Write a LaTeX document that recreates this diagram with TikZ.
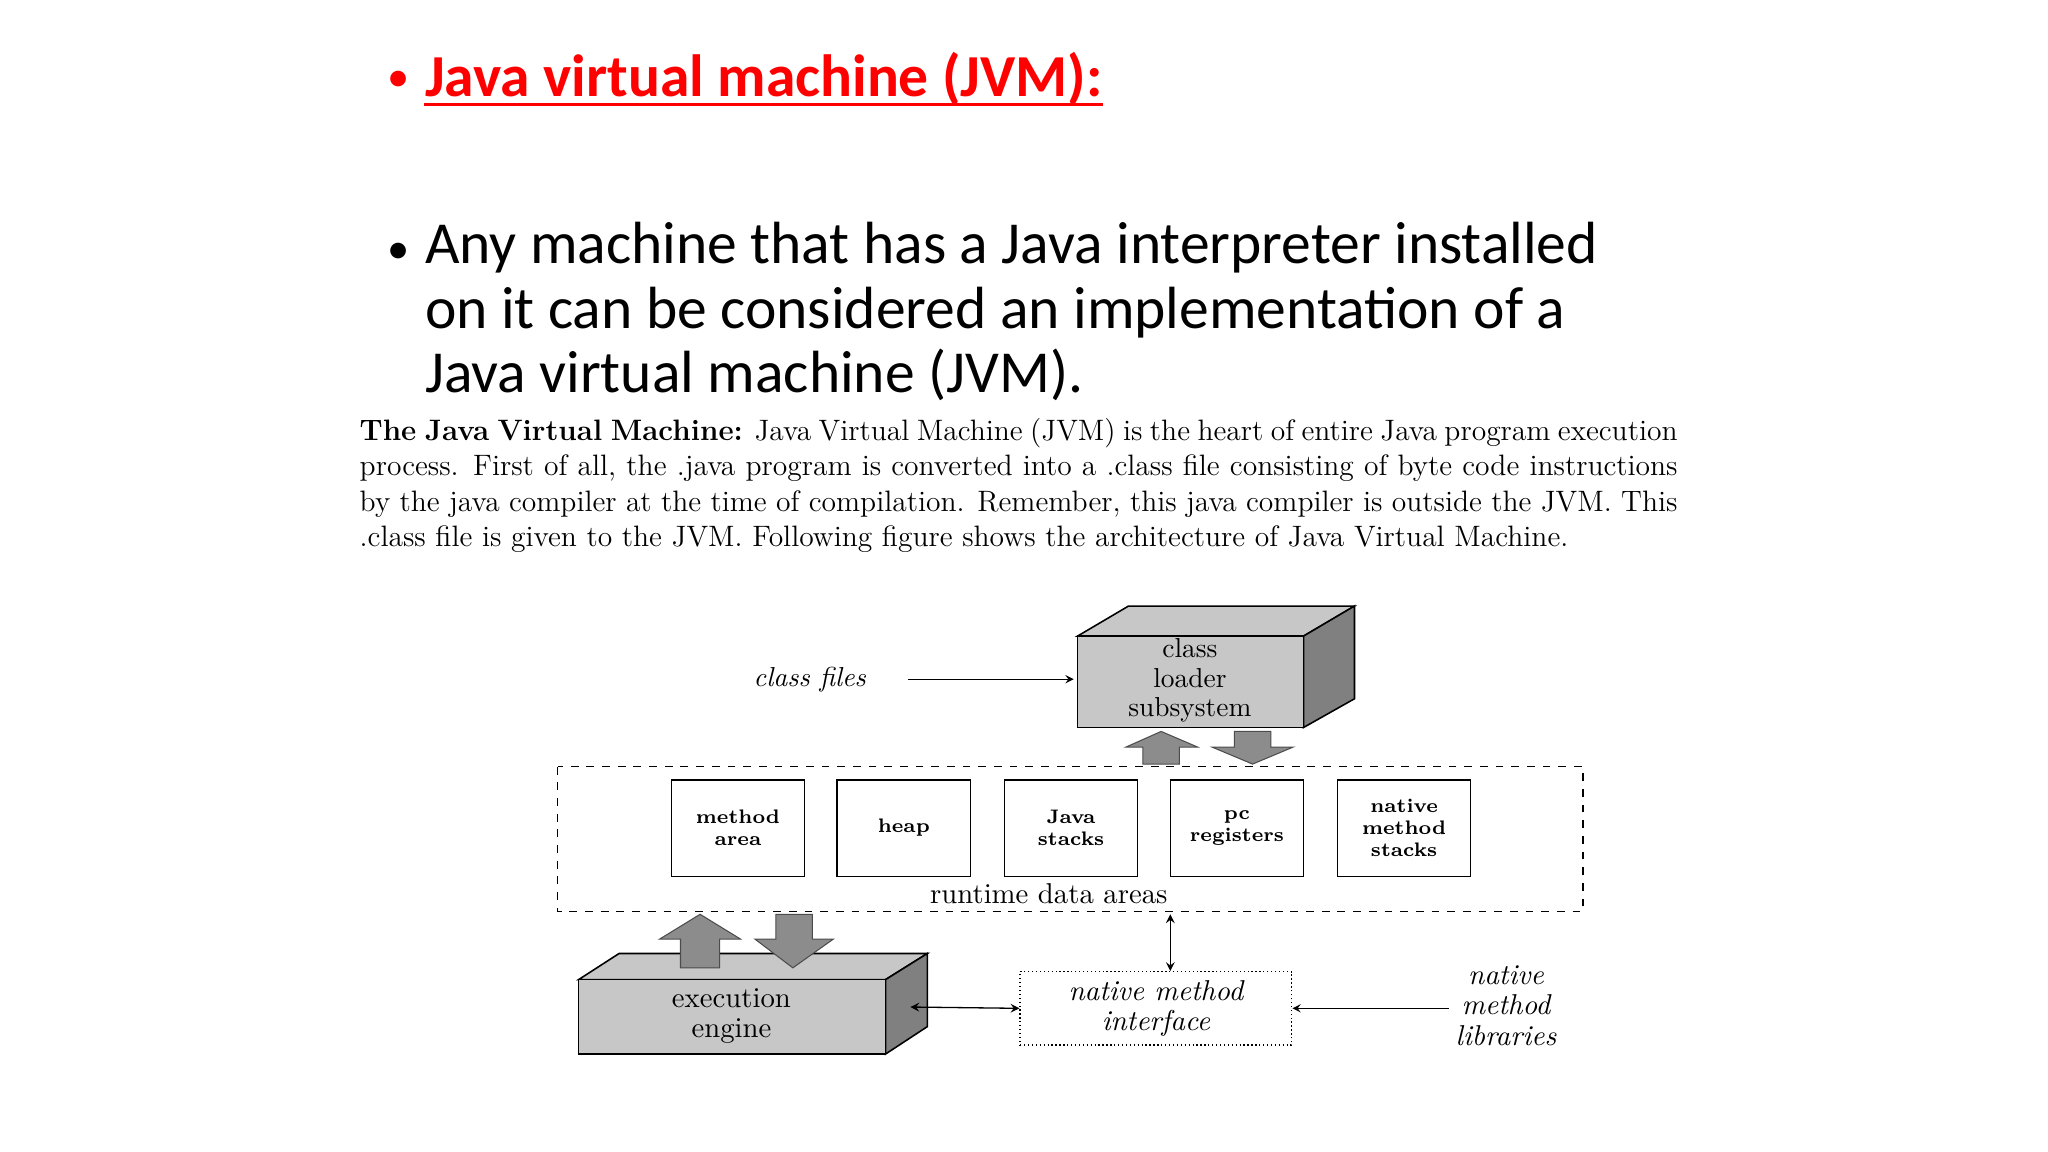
\documentclass[tikz,border=0pt]{standalone}
\usepackage{fontspec}
\setmainfont{Latin Modern Roman}
\newfontfamily\calib{Carlito}
\begin{document}
\begin{tikzpicture}[x=0.5pt,y=-0.5pt,
  face/.style={draw=black,fill=black!22,line width=0.6pt},
  side/.style={draw=black,fill=black!50,line width=0.6pt},
  fat/.style={draw=black!70,fill=black!45,line width=0.4pt},
  area/.style={draw,line width=0.6pt,minimum width=51pt,minimum height=37pt,align=center,font=\fontsize{7.5}{8.5}\selectfont\bfseries},
  lbl/.style={align=center,inner sep=0pt},
  thin/.style={line width=0.4pt,-stealth}]
\useasboundingbox (0,0) rectangle (1568,882);
% bullets
\node[anchor=base west,inner sep=0pt,text=red,font=\calib\fontsize{17}{20}\selectfont] (b1) at (296,70) {•};
\node[anchor=base west,inner sep=0pt,text=red,font=\calib\fontsize{22.8}{27}\selectfont\bfseries] (t1) at (325,74) {Java virtual machine (JVM):};
\draw[red,line width=1.2pt] ([yshift=-3pt]t1.base west) -- ([yshift=-3pt]t1.base east);
\node[anchor=base west,inner sep=0pt,font=\calib\fontsize{17}{20}\selectfont] (b2) at (296,202) {•};
\node[anchor=north west,inner sep=0pt,align=left,font=\calib\fontsize{22.8}{24.7}\selectfont] (t2) at (325,170) {Any machine that has a Java interpreter installed\\on it can be considered an implementation of a\\Java virtual machine (JVM).};
% paragraph
\node[anchor=north west,inner sep=0pt,text width=504.5pt,align=justify,font=\fontsize{11.3}{13.5}\selectfont] (para) at (275,320) {\textbf{The Java Virtual Machine:} Java Virtual Machine (JVM) is the heart of entire Java program execution process. First of all, the .java program is converted into a .class file consisting of byte code instructions by the java compiler at the time of compilation. Remember, this java compiler is outside the JVM. This .class file is given to the JVM. Following figure shows the architecture of Java Virtual Machine.\par};
% class loader
\draw[face] (825,487) -- (864,464) -- (1037,464) -- (998,487) -- cycle;
\draw[side] (998,487) -- (1037,464) -- (1037,535) -- (998,557) -- cycle;
\draw[face] (825,487) rectangle (998,557);
\node[lbl,font=\fontsize{10.5}{11.2}\selectfont] (cl) at (911,521) {class\\loader\\subsystem};
\node[lbl,font=\fontsize{10.5}{12}\selectfont\itshape] (cf) at (620,520) {class files};
\coordinate (clw) at (822,520);
\draw[thin] (695,520) -- (clw);
% fat arrows class loader
\draw[fat] (889,560) -- (917,572) -- (903,572) -- (903,585) -- (875,585) -- (875,572) -- (862,572) -- cycle;
\draw[fat] (959,585) -- (990,572) -- (973,572) -- (973,560) -- (945,560) -- (945,572) -- (928,572) -- cycle;
% runtime area
\draw[dashed,line width=0.5pt] (427,587) rectangle (1212,698);
\node[area] (ma) at (565,634) {method\\area};
\node[area] (hp) at (692,634) {heap};
\node[area] (js) at (820,634) {Java\\stacks};
\node[area] (pc) at (947,634) {pc\\registers};
\node[area] (ns) at (1075,634) {native\\method\\stacks};
\node[lbl,font=\fontsize{11}{12}\selectfont] (rda) at (803,684) {runtime data areas};
% execution engine
\draw[face] (443,750) -- (474,730) -- (710,730) -- (678,750) -- cycle;
\draw[side] (678,750) -- (710,730) -- (710,786) -- (678,807) -- cycle;
\draw[face] (443,750) rectangle (678,807);
\node[lbl,font=\fontsize{11}{11.5}\selectfont] (ee) at (560,778) {execution\\engine};
\draw[fat] (536,700) -- (567,719) -- (551,719) -- (551,741) -- (521,741) -- (521,719) -- (505,719) -- cycle;
\draw[fat] (607,741) -- (638,719) -- (622,719) -- (622,700) -- (594,700) -- (594,719) -- (578,719) -- cycle;
% native method interface
\node[draw,densely dotted,line width=0.5pt,minimum width=104pt,minimum height=26pt,align=center,font=\fontsize{11}{11.5}\selectfont\itshape] (nmi) at (885,772) {native method\\interface};
\node[lbl,font=\fontsize{11}{11.5}\selectfont\itshape] (nml) at (1153,770) {native\\method\\libraries};
\coordinate (rdab) at (896,700);
\coordinate (eer) at (697,771);
\draw[line width=0.5pt,stealth-stealth] (rdab) -- (nmi.north -| rdab);
\draw[line width=0.5pt,stealth-stealth] (eer) -- (nmi.west);
\draw[thin] (nml.west |- nmi.east) ++(-5,0) -- (nmi.east);
\end{tikzpicture}
\end{document}
